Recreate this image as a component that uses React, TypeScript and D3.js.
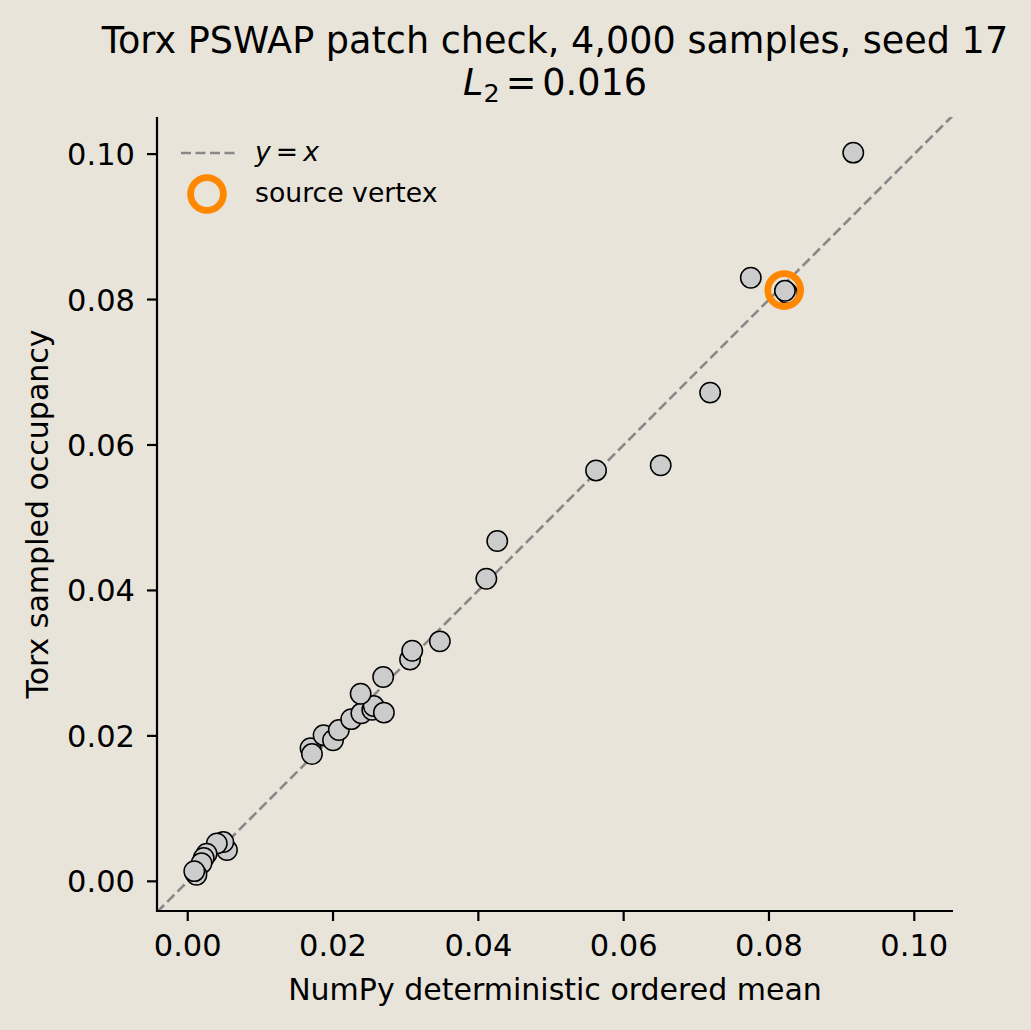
import React, { useEffect } from "react";
import * as d3 from "d3";

// NumPy deterministic ordered mean (x) vs Torx sampled occupancy (y)
const numpyMean = [
  0.0054, 0.0049, 0.0040, 0.0026, 0.0022, 0.0019, 0.0010, 0.0012, 0.0009,
  0.0169, 0.0171, 0.0187, 0.0200, 0.0208, 0.0225, 0.0239, 0.0254, 0.0256,
  0.0270, 0.0238, 0.0269, 0.0306, 0.0309, 0.0347, 0.0411, 0.0426, 0.0562,
  0.0651, 0.0719, 0.0775, 0.0825, 0.0822, 0.0916,
];
const torxOccupancy = [
  0.0043, 0.0054, 0.0052, 0.0038, 0.0032, 0.0025, 0.0012, 0.0009, 0.0014,
  0.0183, 0.0175, 0.0201, 0.0194, 0.0208, 0.0223, 0.0231, 0.0236, 0.0241,
  0.0232, 0.0258, 0.0281, 0.0305, 0.0317, 0.0330, 0.0416, 0.0468, 0.0565,
  0.0572, 0.0672, 0.0830, 0.0809, 0.0812, 0.1002,
];
const sourceVertex = [0.0821, 0.0813];
const tickValues = [0.0, 0.02, 0.04, 0.06, 0.08, 0.1];
const axisDomain = [-0.00423, 0.10533];
const axisDomainY = [-0.00408, 0.1051];

const titleText = "Torx PSWAP patch check, 4,000 samples, seed 17";
const xLabel = "NumPy deterministic ordered mean";
const yLabel = "Torx sampled occupancy";

const BG = "#e8e4da";
const FONT = "DejaVu Sans, sans-serif";

export default function App() {
  useEffect(() => {
    document.body.style.margin = "0";
    document.body.style.background = BG;
  }, []);

  const left = 157, right = 953, top = 117, bottom = 911;
  const x = d3.scaleLinear().domain(axisDomain).range([left, right]);
  const y = d3.scaleLinear().domain(axisDomainY).range([bottom, top]);
  const fmt = d3.format(".2f");

  return (
    <svg width={1031} height={1030} style={{ display: "block", background: BG, fontFamily: FONT }}>
      <rect x={0} y={0} width={1031} height={1030} fill={BG} />
      <defs>
        <clipPath id="plotclip">
          <rect x={left} y={top} width={right - left} height={bottom - top} />
        </clipPath>
      </defs>
      {/* Title */}
      <text x={555} y={53} textAnchor="middle" fontSize={36.6} fill="#000">{titleText}</text>
      <text x={555} y={95} textAnchor="middle" fontSize={36.6} fill="#000">
        <tspan fontStyle="italic">L</tspan>
        <tspan fontSize={25.5} dy={7}>2</tspan>
        <tspan dy={-7} dx={6}>=</tspan>
        <tspan dx={6}>0.016</tspan>
      </text>

      {/* diagonal y = x */}
      <g clipPath="url(#plotclip)">
        <line
          x1={x(axisDomain[0])}
          y1={y(axisDomain[0])}
          x2={x(axisDomain[1])}
          y2={y(axisDomain[1])}
          stroke="#888888"
          strokeWidth={2.6}
          strokeDasharray="10,4.5"
        />
        {numpyMean.map((v, i) => (
          <circle
            key={i}
            cx={x(v)}
            cy={y(torxOccupancy[i])}
            r={10.2}
            fill="#cccccc"
            stroke="#000"
            strokeWidth={1.5}
          />
        ))}
        <circle
          cx={x(sourceVertex[0])}
          cy={y(sourceVertex[1])}
          r={16.4}
          fill="none"
          stroke="#ff8800"
          strokeWidth={6.8}
        />
      </g>

      {/* spines */}
      <line x1={left} y1={top} x2={left} y2={bottom + 1} stroke="#000" strokeWidth={2.2} />
      <line x1={left - 1} y1={bottom} x2={right} y2={bottom} stroke="#000" strokeWidth={2.2} />

      {/* x ticks */}
      {tickValues.map((t) => (
        <g key={"x" + t}>
          <line x1={x(t)} x2={x(t)} y1={bottom} y2={bottom + 10} stroke="#000" strokeWidth={2.2} />
          <text x={x(t)} y={bottom + 45} textAnchor="middle" fontSize={30.5} fill="#000">{fmt(t)}</text>
        </g>
      ))}
      {/* y ticks */}
      {tickValues.map((t) => (
        <g key={"y" + t}>
          <line x1={left} x2={left - 10} y1={y(t)} y2={y(t)} stroke="#000" strokeWidth={2.2} />
          <text x={left - 22} y={y(t) + 11} textAnchor="end" fontSize={30.5} fill="#000">{fmt(t)}</text>
        </g>
      ))}

      {/* axis labels */}
      <text x={(left + right) / 2} y={1000} textAnchor="middle" fontSize={30} fill="#000">{xLabel}</text>
      <text
        transform={`translate(48, ${(top + bottom) / 2}) rotate(-90)`}
        textAnchor="middle"
        fontSize={30}
        fill="#000"
      >
        {yLabel}
      </text>

      {/* legend */}
      <line x1={181} x2={236} y1={153} y2={153} stroke="#888888" strokeWidth={2.6} strokeDasharray="10,4.5" />
      <text x={255} y={161} fontSize={26.7} fill="#000">
        <tspan fontStyle="italic">y</tspan>
        <tspan dx={5}>=</tspan>
        <tspan dx={5} fontStyle="italic">x</tspan>
      </text>
      <circle cx={207} cy={194} r={16.4} fill="none" stroke="#ff8800" strokeWidth={6.8} />
      <text x={255} y={202} fontSize={26.7} fill="#000">source vertex</text>
    </svg>
  );
}
